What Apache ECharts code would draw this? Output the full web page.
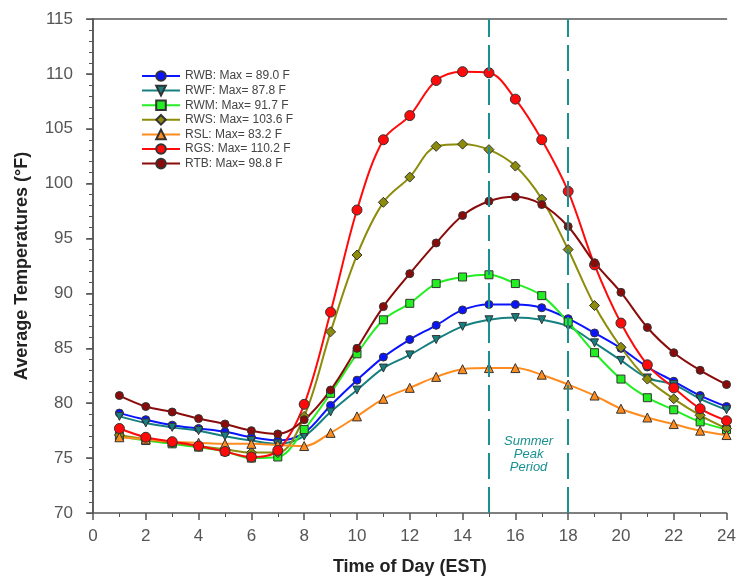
<!DOCTYPE html>
<html>
<head>
<meta charset="utf-8">
<script src="https://cdn.jsdelivr.net/npm/echarts@6/dist/echarts.min.js"></script>
<style>
body { margin: 0; background: #fff; }
#chart { width: 739px; height: 582px; }
</style>
</head>
<body>
<div id="chart"></div>
<script>

var hours = [1,2,3,4,5,6,7,8,9,10,11,12,13,14,15,16,17,18,19,20,21,22,23,24];

var rwb = [79.1,78.5,78.0,77.7,77.4,76.9,76.6,77.3,79.8,82.1,84.2,85.8,87.1,88.5,89.0,89.0,88.7,87.7,86.4,85.0,83.3,82.0,80.7,79.7];
var rwf = [78.8,78.2,77.8,77.5,77.0,76.6,76.3,77.0,79.2,81.2,83.2,84.4,85.8,87.0,87.6,87.8,87.6,87.0,85.5,83.9,82.3,81.7,80.4,79.4];
var rwm = [77.0,76.6,76.3,76.0,75.6,75.0,75.1,77.6,80.9,84.5,87.6,89.1,90.9,91.5,91.7,90.9,89.8,87.4,84.6,82.2,80.5,79.4,78.3,77.6];
var rws = [77.1,76.7,76.4,76.1,75.8,75.5,75.5,78.8,86.5,93.5,98.3,100.6,103.4,103.6,103.1,101.6,98.6,94.0,88.9,85.1,82.2,80.4,78.9,77.7];
var rsl = [76.9,76.7,76.5,76.4,76.3,76.3,76.2,76.1,77.3,78.8,80.4,81.4,82.4,83.1,83.2,83.2,82.6,81.7,80.7,79.5,78.7,78.1,77.5,77.1];
var rgs = [77.7,76.9,76.5,76.1,75.6,75.1,75.7,79.9,88.3,97.6,104.0,106.2,109.4,110.2,110.1,107.7,104.0,99.3,92.6,87.3,83.5,81.4,79.5,78.4];
var rtb = [80.7,79.7,79.2,78.6,78.1,77.5,77.2,78.5,81.2,85.0,88.8,91.8,94.6,97.1,98.4,98.8,98.1,96.1,92.8,90.1,86.9,84.6,83.0,81.7];

var peakStart = 15;
var peakEnd = 18;

var chart = echarts.init(document.getElementById('chart'));

function pairs(vals) {
    var res = [];
    for (var i = 0; i < hours.length; i++) {
        res.push([hours[i], vals[i]]);
    }
    return res;
}

function mkSeries(name, vals, color, symbol, size) {
    return {
        name: name,
        type: 'line',
        data: pairs(vals),
        smooth: 0.35,
        symbol: symbol,
        symbolSize: size,
        lineStyle: { color: color, width: 2 },
        itemStyle: { color: color, borderColor: '#333', borderWidth: 1 },
        emphasis: { disabled: true }
    };
}

var series = [
    mkSeries('RWB: Max = 89.0 F', rwb, '#0a14ff', 'circle', 8),
    mkSeries('RWF: Max= 87.8 F', rwf, '#168080', 'path://M0,0 L10,0 L5,9 Z', 8),
    mkSeries('RWM: Max= 91.7 F', rwm, '#22ee22', 'rect', 8),
    mkSeries('RWS: Max= 103.6 F', rws, '#8c8c0a', 'diamond', 10),
    mkSeries('RSL: Max= 83.2 F', rsl, '#ff8c1e', 'triangle', 9),
    mkSeries('RGS: Max= 110.2 F', rgs, '#ff0a0a', 'circle', 10),
    mkSeries('RTB: Max= 98.8 F', rtb, '#8b0a0a', 'circle', 8)
];

// summer peak markers
series[0].markLine = {
    silent: true,
    symbol: 'none',
    label: { show: false },
    lineStyle: { color: '#1a9090', width: 2, type: [26, 8] },
    data: [{ xAxis: peakStart }, { xAxis: peakEnd }]
};
series[0].markArea = {
    silent: true,
    itemStyle: { color: 'rgba(0,0,0,0)' },
    label: {
        show: true,
        position: 'inside',
        formatter: 'Summer\nPeak\nPeriod',
        color: '#1a9090',
        fontStyle: 'italic',
        fontFamily: 'Liberation Sans',
        fontSize: 13,
        lineHeight: 13
    },
    data: [[{ xAxis: peakStart, yAxis: 73 }, { xAxis: peakEnd, yAxis: 77.6 }]]
};

var option = {
    backgroundColor: '#fff',
    animation: false,
    grid: { left: 93, right: 6, top: 19, bottom: 69 },
    legend: {
        orient: 'vertical',
        left: 136,
        top: 65,
        itemWidth: 38,
        itemHeight: 12,
        itemGap: 2.6,
        textStyle: { fontFamily: 'Liberation Sans', fontSize: 12, color: '#444' },
        data: series.map(function (s) { return s.name; })
    },
    xAxis: [{
        type: 'value',
        min: 0,
        max: 24,
        interval: 2,
        name: 'Time of Day (EST)',
        nameLocation: 'middle',
        nameGap: 45,
        nameTextStyle: { fontFamily: 'Liberation Sans', fontWeight: 'bold', fontSize: 18, color: '#222' },
        axisLine: { lineStyle: { color: '#555', width: 1.5 } },
        axisTick: { show: true, length: 7, lineStyle: { color: '#555', width: 1.5 } },
        minorTick: { show: true, splitNumber: 2, length: 4, lineStyle: { color: '#555' } },
        axisLabel: { fontFamily: 'Liberation Sans', fontSize: 17, color: '#555', margin: 15 },
        splitLine: { show: false }
    }, {
        type: 'value',
        position: 'top',
        min: 0,
        max: 24,
        axisLine: { show: true, onZero: false, lineStyle: { color: '#555', width: 1.5 } },
        axisTick: { show: false },
        axisLabel: { show: false },
        splitLine: { show: false }
    }],
    yAxis: [{
        type: 'value',
        min: 70,
        max: 115,
        interval: 5,
        name: 'Average Temperatures (°F)',
        nameLocation: 'middle',
        nameGap: 62,
        nameTextStyle: { fontFamily: 'Liberation Sans', fontWeight: 'bold', fontSize: 18, color: '#222' },
        axisLine: { show: true, lineStyle: { color: '#555', width: 1.5 } },
        axisTick: { show: true, length: 7, lineStyle: { color: '#555', width: 1.5 } },
        minorTick: { show: true, splitNumber: 5, length: 4, lineStyle: { color: '#555' } },
        axisLabel: { fontFamily: 'Liberation Sans', fontSize: 17, color: '#555', margin: 20 },
        splitLine: { show: false }
    }, {
        type: 'value',
        position: 'right',
        min: 70,
        max: 115,
        interval: 5,
        axisLine: { show: true, lineStyle: { color: '#555', width: 1.5 } },
        axisTick: { show: true, inside: true, length: 6, lineStyle: { color: '#555' } },
        minorTick: { show: true, splitNumber: 5, length: 3, lineStyle: { color: '#555' } },
        axisLabel: { show: false },
        splitLine: { show: false }
    }],
    series: series
};

chart.setOption(option);

</script>
</body>
</html>
